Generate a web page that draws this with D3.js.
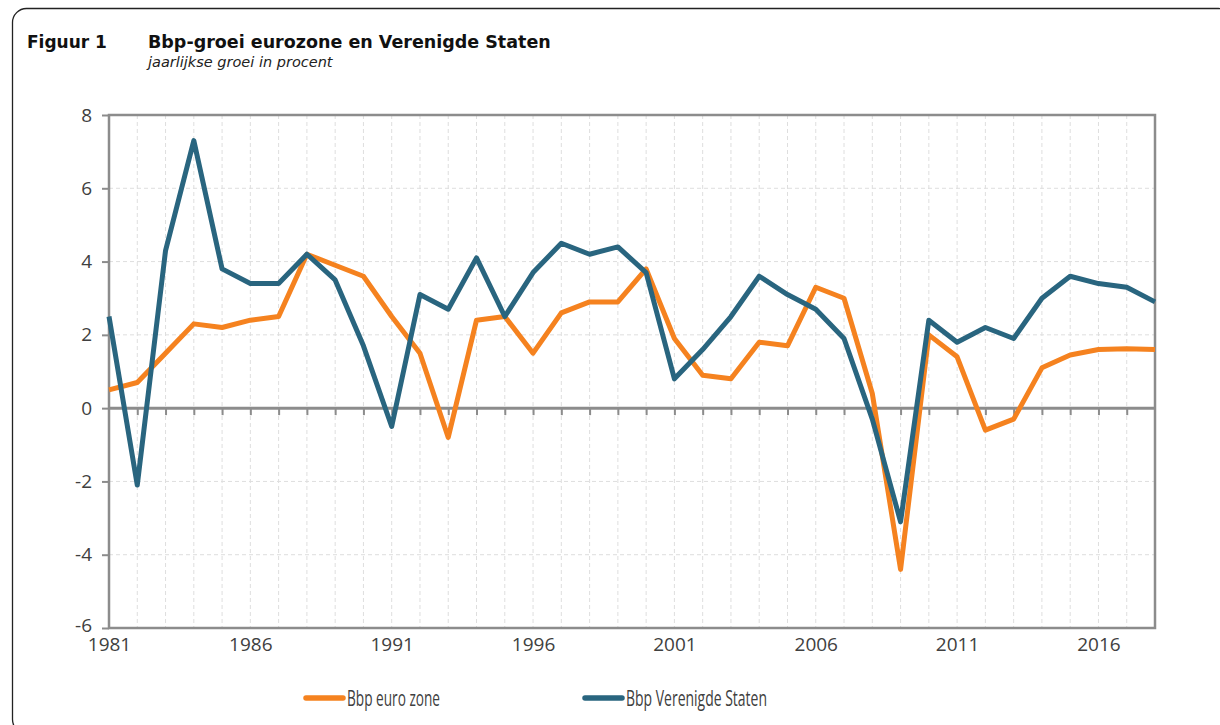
<!DOCTYPE html>
<html>
<head>
<meta charset="utf-8">
<script src="https://cdn.jsdelivr.net/npm/d3@7"></script>
<style>
  body { margin: 0; background: #fff; }
  svg text { font-family: "Open Sans", "Noto Sans", sans-serif; }
</style>
</head>
<body>
<svg width="1220" height="725"></svg>
<script>
// data
var years = d3.range(1981, 2019);
var euroZone = [0.5, 0.7, 1.5, 2.3, 2.2, 2.4, 2.5, 4.2, 3.9, 3.6,
  2.5, 1.5, -0.8, 2.4, 2.5, 1.5, 2.6, 2.9, 2.9, 3.8,
  1.9, 0.9, 0.8, 1.8, 1.7, 3.3, 3.0, 0.4, -4.4, 2.0,
  1.4, -0.6, -0.3, 1.1, 1.45, 1.6, 1.62, 1.6];
var usa = [2.5, -2.1, 4.3, 7.3, 3.8, 3.4, 3.4, 4.2, 3.5, 1.7,
  -0.5, 3.1, 2.7, 4.1, 2.5, 3.7, 4.5, 4.2, 4.4, 3.7,
  0.8, 1.6, 2.5, 3.6, 3.1, 2.7, 1.9, -0.3, -3.1, 2.4,
  1.8, 2.2, 1.9, 3.0, 3.6, 3.4, 3.3, 2.9];
var yTicks = [-6, -4, -2, 0, 2, 4, 6, 8];
var xLabels = [1981, 1986, 1991, 1996, 2001, 2006, 2011, 2016];
var seriesNames = ["Bbp euro zone", "Bbp Verenigde Staten"];
var seriesColors = ["#f5821f", "#29657f"];

var margin = { top: 115, right: 65, bottom: 97, left: 109 },
  width = 1220 - margin.left - margin.right,
  height = 725 - margin.top - margin.bottom;

var root = d3.select("svg");

// outer frame with rounded corners
root.append("rect")
  .attr("x", 12.5).attr("y", 8.5)
  .attr("width", 1220).attr("height", 725)
  .attr("rx", 14)
  .attr("fill", "none")
  .attr("stroke", "#222")
  .attr("stroke-width", 1.3);

// title
root.append("text")
  .attr("x", 27).attr("y", 48)
  .attr("font-size", 17).attr("font-weight", "bold")
  .attr("fill", "#111")
  .style("font-family", "'DejaVu Sans', sans-serif")
  .text("Figuur 1");
root.append("text")
  .attr("x", 148).attr("y", 48)
  .attr("font-size", 17.5).attr("font-weight", "bold")
  .attr("fill", "#111")
  .style("font-family", "'DejaVu Sans', sans-serif")
  .text("Bbp-groei eurozone en Verenigde Staten");
root.append("text")
  .attr("x", 148).attr("y", 67)
  .attr("font-size", 14.5).attr("font-style", "italic")
  .attr("fill", "#222")
  .style("font-family", "'DejaVu Sans', sans-serif")
  .text("jaarlijkse groei in procent");

var svg = root.append("g")
  .attr("transform", "translate(" + margin.left + "," + margin.top + ")");

var x = d3.scaleLinear().domain([1981, 2018]).range([0, width]);
var y = d3.scaleLinear().domain([-6, 8]).range([height, 0]);

// grid
svg.append("g").selectAll("line")
  .data(years.slice(1))
  .enter().append("line")
  .attr("x1", d => x(d)).attr("x2", d => x(d))
  .attr("y1", 0).attr("y2", height)
  .attr("stroke", "#dedede")
  .attr("stroke-dasharray", "4,3");
svg.append("g").selectAll("line")
  .data(yTicks.filter(d => d !== 0 && d !== -6 && d !== 8))
  .enter().append("line")
  .attr("x1", 0).attr("x2", width)
  .attr("y1", d => y(d)).attr("y2", d => y(d))
  .attr("stroke", "#dedede")
  .attr("stroke-dasharray", "4,3");

// plot border
svg.append("rect")
  .attr("width", width).attr("height", height)
  .attr("fill", "none")
  .attr("stroke", "#8c8c8c")
  .attr("stroke-width", 2.5);

// y axis (plain hyphen for negatives, like the original)
var yAxis = svg.append("g")
  .call(d3.axisLeft(y).tickValues(yTicks).tickSize(7).tickPadding(10)
    .tickFormat(d => String(d)));
yAxis.select(".domain").remove();
yAxis.selectAll("line").attr("stroke", "#8c8c8c").attr("stroke-width", 2);
yAxis.selectAll("text").attr("font-size", 19).attr("fill", "#404040")
  .style("font-family", "'Open Sans', sans-serif");
// lift the bottom label a hair so it clears the year labels
yAxis.selectAll("text").filter(d => d === -6).attr("dy", "0.2em");

// zero line with year ticks
var zero = svg.append("g")
  .attr("transform", "translate(0," + y(0) + ")")
  .call(d3.axisBottom(x).tickValues(years.slice(1, -1)).tickSize(7).tickFormat(""));
zero.select(".domain").remove();
zero.selectAll("line").attr("stroke", "#8c8c8c").attr("stroke-width", 2);
svg.append("line")
  .attr("x1", 0).attr("x2", width)
  .attr("y1", y(0)).attr("y2", y(0))
  .attr("stroke", "#8c8c8c").attr("stroke-width", 3);

// x labels
var xAxis = svg.append("g")
  .attr("transform", "translate(0," + height + ")")
  .call(d3.axisBottom(x).tickValues(xLabels).tickSize(0).tickPadding(10).tickFormat(d3.format("d")));
xAxis.select(".domain").remove();
xAxis.selectAll("text").attr("font-size", 19).attr("fill", "#404040")
  .style("font-family", "'Open Sans', sans-serif");

// lines
var line = d3.line()
  .x((d, i) => x(years[i]))
  .y(d => y(d));

[euroZone, usa].forEach(function (s, i) {
  svg.append("path")
    .datum(s)
    .attr("fill", "none")
    .attr("stroke", seriesColors[i])
    .attr("stroke-width", 5)
    .attr("stroke-linejoin", "round")
    .attr("d", line);
});

// legend (the original uses a narrow font, so squeeze the text)
var legendX = [306, 585];
var legendW = [93, 141];
var legend = root.append("g");
seriesNames.forEach(function (name, i) {
  legend.append("line")
    .attr("x1", legendX[i]).attr("x2", legendX[i] + 37)
    .attr("y1", 698).attr("y2", 698)
    .attr("stroke", seriesColors[i])
    .attr("stroke-width", 5.5)
    .attr("stroke-linecap", "round");
  legend.append("text")
    .attr("x", legendX[i] + 41).attr("y", 706)
    .attr("font-size", 22).attr("fill", "#404040")
    .attr("textLength", legendW[i])
    .attr("lengthAdjust", "spacingAndGlyphs")
    .text(name);
});
</script>
</body>
</html>
